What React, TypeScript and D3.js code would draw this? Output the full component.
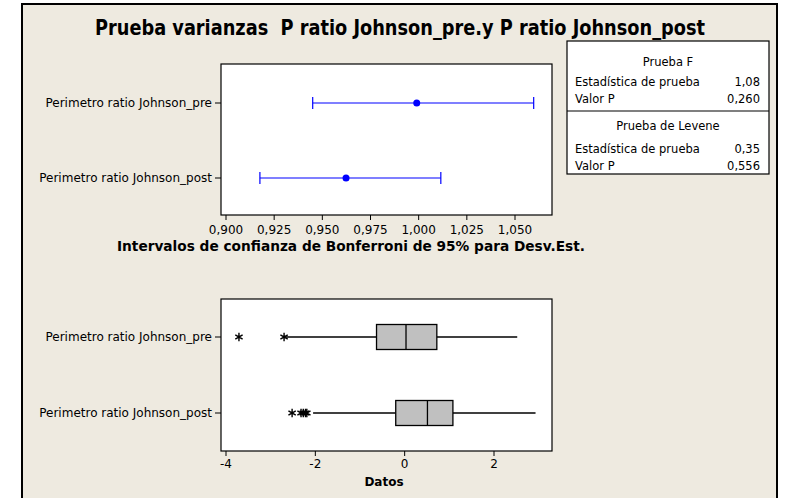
import React from "react";
import * as d3 from "d3";

const title = "Prueba varianzas  P ratio Johnson_pre.y P ratio Johnson_post";
const groups = ["Perimetro ratio Johnson_pre", "Perimetro ratio Johnson_post"];
// Bonferroni CI for StDev
const ciLow = [0.945, 0.9176];
const ciEst = [0.999, 0.9623];
const ciHigh = [1.0597, 1.0115];
const ciTicks = [0.9, 0.925, 0.95, 0.975, 1.0, 1.025, 1.05];
const ciAxisLabel = "Intervalos de confianza de Bonferroni de 95% para Desv.Est.";
// Boxplot stats
const whiskLow = [-2.68, -2.05];
const q1 = [-0.63, -0.2];
const median = [0.03, 0.51];
const q3 = [0.72, 1.08];
const whiskHigh = [2.52, 2.93];
const outliersPre = [-3.71, -2.7];
const outliersPost = [-2.52, -2.32, -2.27, -2.22, -2.19];
const boxTicks = [-4, -2, 0, 2];
const boxAxisLabel = "Datos";
// Test table
const tableSections = [
  { head: "Prueba F", rows: [["Estadística de prueba", "1,08"], ["Valor P", "0,260"]] },
  { head: "Prueba de Levene", rows: [["Estadística de prueba", "0,35"], ["Valor P", "0,556"]] },
];

const FONT = "Tahoma, 'DejaVu Sans', Verdana, sans-serif";
const fmt3 = (v: number) => d3.format(".3f")(v).replace(".", ",");

export default function App() {
  const W = 785, H = 498;
  const outliers = [outliersPre, outliersPost];

  // top panel
  const top = { x0: 221, x1: 552, y0: 64, y1: 215 };
  const xCI = d3.scaleLinear().domain([0.9, 1.05]).range([226, 515]);
  const yCI = d3.scalePoint<string>().domain(groups).range([103, 178]);

  // bottom panel
  const bot = { x0: 221, x1: 552, y0: 299, y1: 451 };
  const xB = d3.scaleLinear().domain([-4, 2]).range([226, 494]);
  const yB = d3.scalePoint<string>().domain(groups).range([337, 413]);
  const boxH = 25;

  const star = d3.symbol().type(d3.symbolAsterisk).size(50)();
  const tableLayout = [
    { head: 66, rows: [86, 103] },
    { head: 130, rows: [153, 170] },
  ];

  return (
    <svg width={W} height={H} style={{ position: "absolute", left: 0, top: 0 }} fontFamily={FONT}>
      <rect x={0} y={0} width={W} height={H} fill="#ffffff" />
      <rect x={22} y={4} width={755} height={H} fill="#EEEAE0" stroke="#000" strokeWidth={2} />
      <text x={400} y={35} textAnchor="middle" fontWeight="bold" fontSize={21}
        fontFamily="'DejaVu Sans Condensed', 'Liberation Sans Narrow', sans-serif"
        textLength={610} lengthAdjust="spacingAndGlyphs" style={{ whiteSpace: "pre" }}>{title}</text>

      {/* top panel */}
      <rect x={top.x0} y={top.y0} width={top.x1 - top.x0} height={top.y1 - top.y0} fill="#fff" stroke="#000" strokeWidth={1.2} />
      {groups.map((g, i) => {
        const y = yCI(g)!;
        return (
          <g key={g}>
            <line x1={top.x0 - 6} x2={top.x0} y1={y} y2={y} stroke="#000" />
            <text x={top.x0 - 9} y={y + 4} textAnchor="end" fontSize={12}>{g}</text>
            <line x1={xCI(ciLow[i])} x2={xCI(ciHigh[i])} y1={y} y2={y} stroke="#0000FF" strokeWidth={1.2} />
            <line x1={xCI(ciLow[i])} x2={xCI(ciLow[i])} y1={y - 6} y2={y + 6} stroke="#0000FF" strokeWidth={1.2} />
            <line x1={xCI(ciHigh[i])} x2={xCI(ciHigh[i])} y1={y - 6} y2={y + 6} stroke="#0000FF" strokeWidth={1.2} />
            <circle cx={xCI(ciEst[i])} cy={y} r={3.5} fill="#0000FF" />
          </g>
        );
      })}
      {ciTicks.map((t) => (
        <g key={t}>
          <line x1={xCI(t)} x2={xCI(t)} y1={top.y1} y2={top.y1 + 5} stroke="#000" />
          <text x={xCI(t)} y={top.y1 + 19} textAnchor="middle" fontSize={12}>{fmt3(t)}</text>
        </g>
      ))}
      <text x={351} y={251} textAnchor="middle" fontSize={13.5} fontWeight="bold"
        textLength={468} lengthAdjust="spacingAndGlyphs">{ciAxisLabel}</text>

      {/* table */}
      <rect x={567} y={41} width={202} height={133} fill="#fff" stroke="#000" strokeWidth={1.2} />
      <line x1={567} x2={769} y1={111} y2={111} stroke="#000" strokeWidth={1.2} />
      {tableSections.map((s, si) => (
        <g key={s.head} fontSize={11.5}>
          <text x={668} y={tableLayout[si].head} textAnchor="middle">{s.head}</text>
          {s.rows.map((r, ri) => (
            <g key={ri}>
              <text x={575} y={tableLayout[si].rows[ri]}>{r[0]}</text>
              <text x={760} y={tableLayout[si].rows[ri]} textAnchor="end">{r[1]}</text>
            </g>
          ))}
        </g>
      ))}

      {/* bottom panel */}
      <rect x={bot.x0} y={bot.y0} width={bot.x1 - bot.x0} height={bot.y1 - bot.y0} fill="#fff" stroke="#000" strokeWidth={1.2} />
      {groups.map((g, i) => {
        const y = yB(g)!;
        return (
          <g key={g}>
            <line x1={bot.x0 - 6} x2={bot.x0} y1={y} y2={y} stroke="#000" />
            <text x={bot.x0 - 9} y={y + 4} textAnchor="end" fontSize={12}>{g}</text>
            <line x1={xB(whiskLow[i])} x2={xB(q1[i])} y1={y} y2={y} stroke="#000" strokeWidth={1.3} />
            <line x1={xB(q3[i])} x2={xB(whiskHigh[i])} y1={y} y2={y} stroke="#000" strokeWidth={1.3} />
            <rect x={xB(q1[i])} y={y - boxH / 2} width={xB(q3[i]) - xB(q1[i])} height={boxH} fill="#C0C0C0" stroke="#000" strokeWidth={1.3} />
            <line x1={xB(median[i])} x2={xB(median[i])} y1={y - boxH / 2} y2={y + boxH / 2} stroke="#000" strokeWidth={1.3} />
            {outliers[i].map((o, k) => (
              <path key={k} d={star!} transform={`translate(${xB(o)},${y})`} fill="none" stroke="#000" strokeWidth={1.4} />
            ))}
          </g>
        );
      })}
      {boxTicks.map((t) => (
        <g key={t}>
          <line x1={xB(t)} x2={xB(t)} y1={bot.y1} y2={bot.y1 + 5} stroke="#000" />
          <text x={xB(t)} y={bot.y1 + 17} textAnchor="middle" fontSize={12}>{t}</text>
        </g>
      ))}
      <text x={384} y={486} textAnchor="middle" fontSize={12} fontWeight="bold">{boxAxisLabel}</text>
    </svg>
  );
}
